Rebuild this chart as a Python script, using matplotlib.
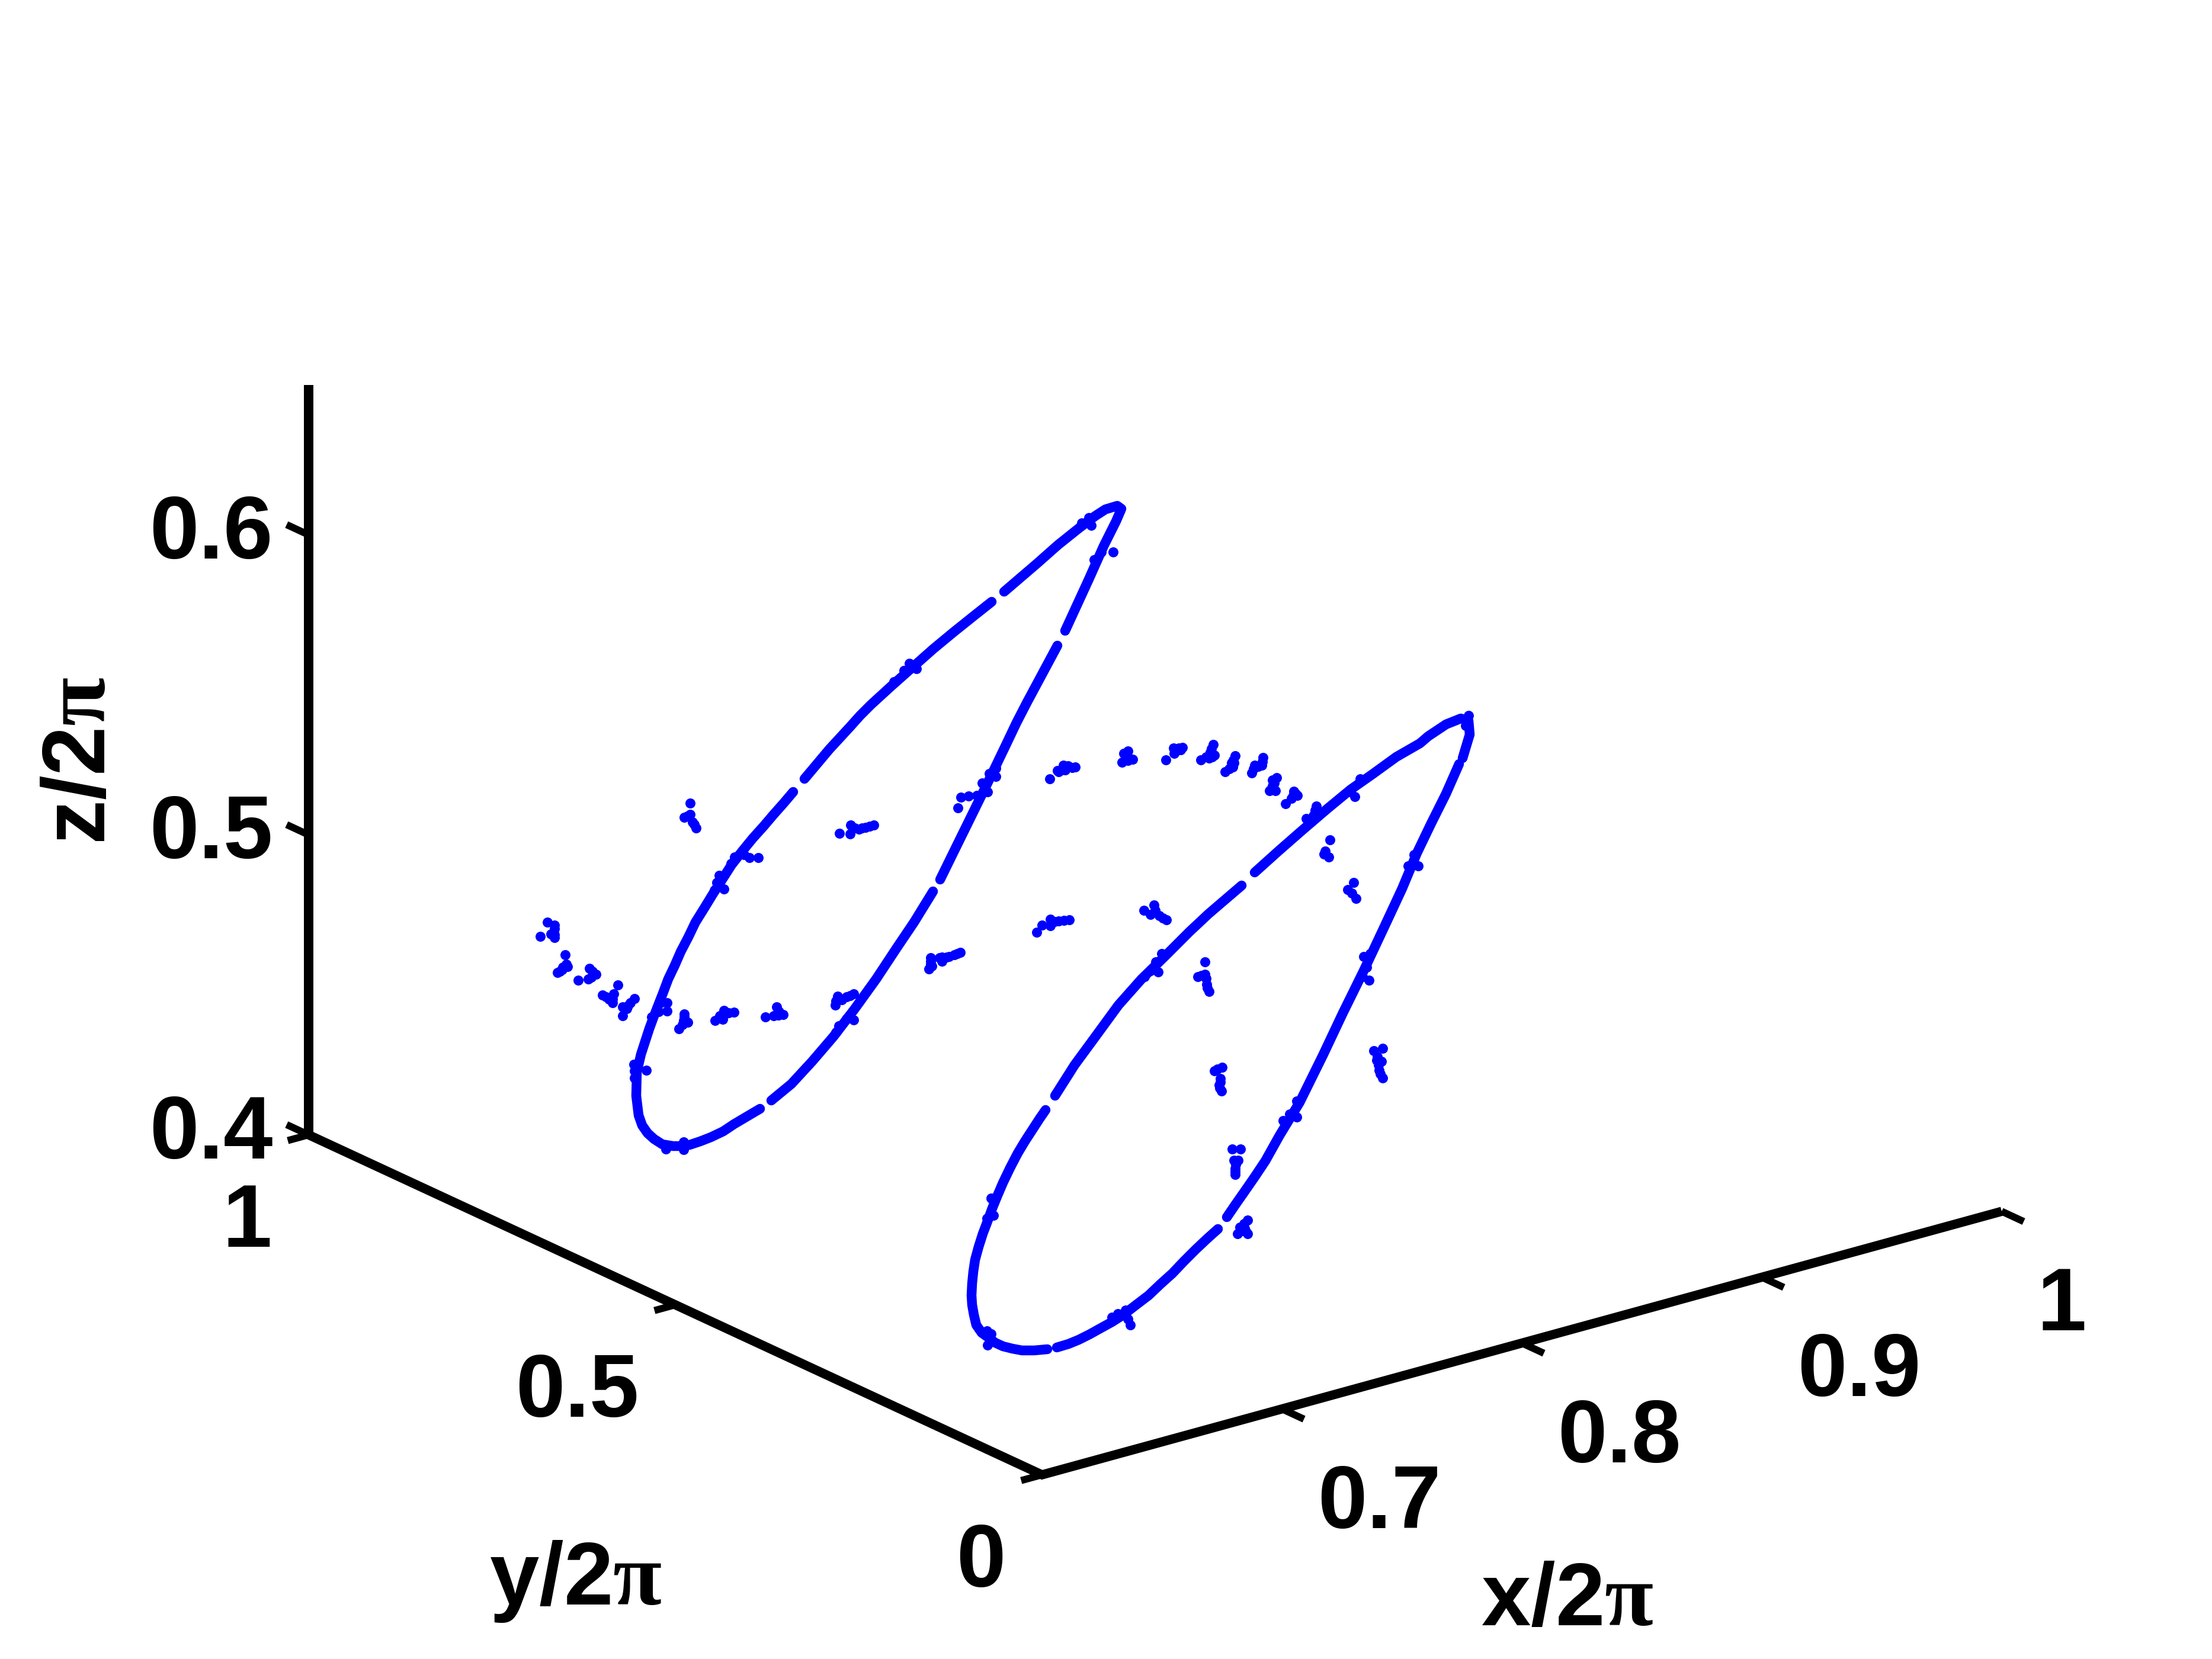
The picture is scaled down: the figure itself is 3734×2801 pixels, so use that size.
import numpy as np
import matplotlib
matplotlib.use('Agg')
import matplotlib.pyplot as plt

plt.rcParams['font.family'] = ['Liberation Sans']
plt.rcParams['font.weight'] = 'bold'
plt.rcParams['mathtext.fontset'] = 'custom'
plt.rcParams['mathtext.it'] = 'Liberation Serif:bold'
plt.rcParams['mathtext.rm'] = 'Liberation Sans:bold'

# the picture is a flat view of a 3d box, so the curve and the dots are read
# as positions on the viewing plane (h, v). nan splits the gaps in the loops
nan = float('nan')

loop1_h = [1798, 1838, 1863, 1884, 1893, 1886, 1866, 1849, 1821, 1786, 1751, 1716, 1695, nan,
           1674, 1645, 1610, 1575, 1540, 1505, 1470, 1452, 1435, 1400, 1358, nan,
           1339, 1322, 1306, 1289, 1271, 1253, 1235, 1219, 1203, 1189, 1174, 1162, 1149, 1139, 1128,
           1119, 1110, 1103, 1096, 1082, 1075, 1074, 1078, 1084, 1093, 1104, 1118, 1136, 1150,
           1164, 1182, 1200, 1221, 1239, 1261, 1283, nan,
           1302, 1336, 1371, 1407, 1443, 1479, 1514, 1543, 1575, nan,
           1587, 1614, 1643, 1671, 1696, 1716, 1733, 1785]
loop1_v = [1065, 978, 922, 880, 859, 854, 860, 871, 892, 920, 951, 981, 999, nan,
           1016, 1039, 1067, 1096, 1127, 1158, 1190, 1208, 1227, 1265, 1315, nan,
           1337, 1357, 1375, 1395, 1415, 1437, 1460, 1485, 1510, 1533, 1557, 1582, 1607, 1630, 1653,
           1677, 1700, 1718, 1737, 1780, 1810, 1850, 1883, 1900, 1913, 1923, 1932, 1935, 1935,
           1933, 1927, 1920, 1910, 1898, 1885, 1872, nan,
           1858, 1830, 1792, 1750, 1703, 1653, 1600, 1557, 1505, nan,
           1485, 1430, 1371, 1314, 1262, 1220, 1187, 1090]

loop2_h = [2469, 2481, 2479, 2466, 2441, 2411, 2397, 2357, 2317, 2280, 2240, 2198, 2158, 2118, nan,
           2096, 2068, 2040, 2008, 1984, 1965, 1927, 1888, 1850, 1814, 1781, nan,
           1765, 1754, 1743, 1730, 1718, 1705, 1693, 1684, 1675, 1667, 1659, 1652, 1646, 1643, 1641,
           1640, 1641, 1644, 1648, 1657, 1668, 1680, 1693, 1709, 1725, 1746, 1768, nan,
           1784, 1804, 1821, 1839, 1857, 1877, 1896, 1918, 1939, 1959, 1979, 1998, 2018, 2037, 2056, nan,
           2071, 2086, 2100, 2118, 2136, 2160, 2194, 2233, 2267, 2302, 2340, 2367, 2392, 2416, 2441, 2463]
loop2_v = [1280, 1240, 1217, 1213, 1223, 1243, 1255, 1278, 1307, 1333, 1366, 1402, 1437, 1473, nan,
           1495, 1519, 1543, 1573, 1597, 1616, 1653, 1697, 1749, 1798, 1850, nan,
           1874, 1890, 1907, 1927, 1947, 1972, 1997, 2018, 2040, 2062, 2083, 2105, 2127, 2147, 2167,
           2187, 2203, 2220, 2237, 2250, 2258, 2267, 2273, 2277, 2280, 2280, 2278, nan,
           2275, 2269, 2262, 2253, 2243, 2232, 2220, 2203, 2187, 2168, 2150, 2130, 2110, 2092, 2075, nan,
           2055, 2033, 2013, 1987, 1960, 1917, 1861, 1782, 1710, 1639, 1558, 1500, 1440, 1390, 1340, 1290]

dots1_h = [1535, 1526, 1547, 1509, 1838, 1826, 1842, 1879, 1859, 1847, 1681, 1670, 1658, 1667,
           1649, 1635, 1622, 1617, 1681,
           1165, 1155, 1165, 1175, 1169, 1172, 1160, 1280, 1265, 1256, 1240, 1234, 1214, 1210, 1222, 1206,
           924, 936, 935, 936, 912, 936, 936, 930, 954, 956, 949, 941, 950, 945, 958,
           995, 1006, 993, 976, 1000, 998,
           1043, 1036, 1017, 1034, 1028, 1034, 1023, 1071, 1064, 1051, 1058, 1051, 1060,
           1115, 1126, 1126, 1112, 1100, 1155, 1154, 1161, 1146, 1155, 1152,
           1222, 1239, 1230, 1220, 1207, 1215, 1226, 1311, 1322, 1306, 1292, 1315, 1314,
           1070, 1071, 1091, 1071, 1124, 1154, 1154,
           1414, 1429, 1441, 1421, 1410, 1411, 1435, 1441, 1429, 1416, 1411]
dots1_v = [1120, 1132, 1129, 1151, 874, 883, 887, 932, 932, 945, 1297, 1306, 1322, 1337,
           1343, 1344, 1346, 1364, 1311,
           1356, 1380, 1375, 1398, 1388, 1392, 1378, 1448, 1448, 1443, 1447, 1458, 1478, 1490, 1501, 1503,
           1557, 1562, 1573, 1583, 1581, 1568, 1578, 1577, 1612, 1628, 1637, 1642, 1633, 1640, 1632,
           1635, 1645, 1653, 1655, 1640, 1650,
           1663, 1678, 1680, 1693, 1687, 1687, 1683, 1686, 1693, 1700, 1703, 1715, 1698,
           1693, 1693, 1707, 1708, 1717, 1712, 1723, 1726, 1737, 1717, 1730,
           1706, 1709, 1710, 1721, 1723, 1715, 1711, 1700, 1713, 1715, 1717, 1708, 1714,
           1797, 1808, 1807, 1820, 1940, 1928, 1941,
           1682, 1683, 1678, 1688, 1697, 1690, 1681, 1722, 1720, 1732, 1743]

dots_mid_h = [1571, 1568, 1571, 1586, 1590, 1602, 1611, 1621, 1571, 1573, 1590, 1616, 1598,
              1417, 1435, 1436, 1450, 1461, 1475, 1443, 1455, 1468,
              1750, 1759, 1773, 1773, 1787, 1805, 1780, 1796,
              1931, 1948, 1942, 1969, 1957, 1950, 1963,
              1772, 1785, 1795, 1815, 1792, 1803, 1810, 1787, 1798,
              1904, 1897, 1912, 1894, 1903, 1904, 1900,
              1968, 1982, 1981, 1996, 1990, 1985, 1993,
              2048, 2043, 2046, 2027, 2045, 2036, 2050, 2041,
              2085, 2079, 2081, 2068, 2082, 2075, 2083,
              2132, 2130, 2118, 2113, 2131, 2124, 2116,
              2155, 2148, 2148, 2143, 2151, 2146, 2153,
              2184, 2190, 2180, 2170, 2187, 2183,
              2222, 2217, 2205, 2212, 2220, 2210]
dots_mid_v = [1617, 1636, 1628, 1617, 1623, 1615, 1612, 1608, 1623, 1631, 1616, 1610, 1616,
              1407, 1408, 1393, 1400, 1397, 1393, 1398, 1398, 1395,
              1574, 1562, 1552, 1563, 1555, 1553, 1556, 1554,
              1537, 1528, 1544, 1553, 1546, 1537, 1550,
              1315, 1301, 1292, 1295, 1300, 1293, 1296, 1303, 1300,
              1268, 1272, 1282, 1287, 1276, 1284, 1278,
              1283, 1272, 1263, 1262, 1263, 1268, 1266,
              1257, 1270, 1278, 1283, 1264, 1278, 1275, 1280,
              1276, 1288, 1295, 1303, 1283, 1298, 1288,
              1279, 1292, 1292, 1305, 1286, 1294, 1298,
              1313, 1317, 1327, 1335, 1322, 1332, 1335,
              1336, 1343, 1348, 1357, 1340, 1343,
              1361, 1377, 1382, 1387, 1368, 1384]

dots2_h = [2296, 2280, 2287, 2245, 2237, 2235, 2243, 2285, 2275, 2282, 2289,
           2387, 2377, 2394, 2479, 2474,
           1961, 1951, 1942, 1955, 1932, 2302, 2313, 2311, 2300, 2307,
           2189, 2189, 2177, 2166,
           2034, 2022, 2034, 2041, 2037, 2036, 2038, 2028,
           2050, 2063, 2060, 2062, 2058, 2060, 2059, 2055,
           2319, 2334, 2324, 2332, 2328, 2334, 2327, 2330, 2325,
           2080, 2094, 2083, 2090, 2085, 2085, 2086, 2085,
           2106, 2093, 2101, 2089, 2106, 2100, 2097, 2103,
           1673, 1673, 1666, 1677, 1666, 1673, 1667,
           1877, 1887, 1900, 1904, 1908]
dots2_v = [1315, 1337, 1345, 1418, 1437, 1442, 1447, 1490, 1502, 1508, 1517,
           1443, 1462, 1462, 1208, 1225,
           1610, 1624, 1639, 1641, 1649, 1615, 1610, 1655, 1649, 1633,
           1859, 1886, 1881, 1892,
           1624, 1649, 1645, 1674, 1662, 1652, 1668, 1647,
           1808, 1802, 1821, 1842, 1832, 1827, 1837, 1805,
           1774, 1770, 1790, 1792, 1807, 1820, 1798, 1813, 1784,
           1940, 1940, 1959, 1959, 1973, 1983, 1966, 1978,
           2060, 2072, 2074, 2083, 2083, 2066, 2078, 2079,
           2023, 2047, 2057, 2052, 2247, 2252, 2271,
           2224, 2218, 2212, 2227, 2237]

x_ticks = [0.7, 0.8, 0.9, 1]
y_ticks = [0, 0.5, 1]
z_ticks = [0.4, 0.5, 0.6]
x_tick_labels = ['0.7', '0.8', '0.9', '1']
y_tick_labels = ['0', '0.5', '1']
z_tick_labels = ['0.4', '0.5', '0.6']


def project(x, y, z):
    # fixed view of the box, fitted to the three drawn axes
    h = 1759 + 4050 * (x - 0.6) - 1238 * y
    v = 2490 - 1112 * (x - 0.6) - 574 * y - 5065 * (z - 0.4)
    return h, v


def px(n):
    return n * 72 / 300.0


fig = plt.figure(figsize=(3734 / 300.0, 2801 / 300.0), dpi=300)
ax = fig.add_axes([0, 0, 1, 1])
ax.set_xlim(0, 3734)
ax.set_ylim(2801, 0)
ax.axis('off')

blue = '#0000ff'
for h, v in [(loop1_h, loop1_v), (loop2_h, loop2_v)]:
    ax.plot(h, v, color=blue, lw=px(16.5), solid_capstyle='round', solid_joinstyle='round')
for h, v in [(dots1_h, dots1_v), (dots_mid_h, dots_mid_v), (dots2_h, dots2_v)]:
    ax.plot(h, v, ls='none', marker='o', ms=px(17), mew=0, color=blue)

# axis lines
base = [project(0.6, 1, 0.4), project(0.6, 0, 0.4), project(1, 0, 0.4)]
ax.plot([p[0] for p in base], [p[1] for p in base], color='k', lw=px(15.5),
        solid_capstyle='butt', solid_joinstyle='miter')
bottom = project(0.6, 1, 0.4)
top = project(0.6, 1, 0.65)
ax.plot([bottom[0], top[0]], [bottom[1], top[1]], color='k', lw=px(16), solid_capstyle='butt')


def tick(start, end):
    ax.plot([start[0], end[0]], [start[1], end[1]], color='k', lw=px(12), solid_capstyle='butt')


fs = 36
for x, label in zip(x_ticks, x_tick_labels):
    tick(project(x, 0, 0.4), project(x, -0.03, 0.4))
    h, v = project(x, 0, 0.4)
    ax.text(h + 60, v + 162, label, fontsize=fs, ha='left', va='center')
for y, label in zip(y_ticks, y_tick_labels):
    tick(project(0.6, y, 0.4), project(0.5913, y, 0.4))
    h, v = project(0.6, y, 0.4)
    ax.text(h - 62, v + 150, label, fontsize=fs, ha='right', va='center')
for z, label in zip(z_ticks, z_tick_labels):
    tick(project(0.6, 1, z), project(0.6, 1.03, z))
    h, v = project(0.6, 1, z)
    ax.text(h - 61, v + 1, label, fontsize=fs, ha='right', va='center')

ax.text(2646, 2705, r'x/2$\pi$', fontsize=fs, ha='center', va='center')
ax.text(972, 2670, r'y/2$\pi$', fontsize=fs, ha='center', va='center')
ax.text(138, 1285, r'z/2$\pi$', fontsize=fs, ha='center', va='center', rotation=90)

fig.savefig('out.png', dpi=300)
